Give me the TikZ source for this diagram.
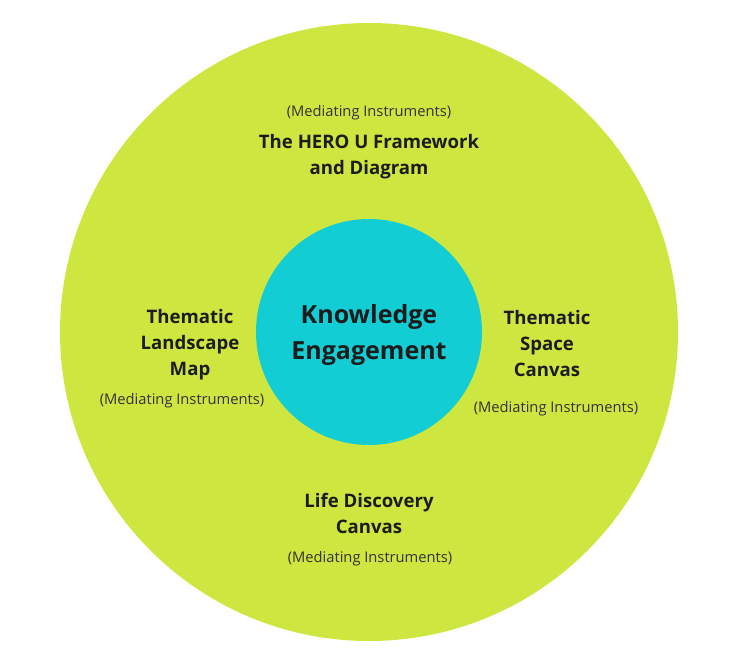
\documentclass[tikz,border=0pt]{standalone}
\usepackage{fontspec}
\setmainfont{Open Sans}
\usetikzlibrary{positioning}
\definecolor{limegreen}{HTML}{CEE640}
\definecolor{cyanball}{HTML}{13CDD4}
\definecolor{inkdark}{HTML}{1C1C1C}
\tikzset{
  title/.style={align=center, text=inkdark, inner sep=0pt,
    font=\fontsize{18.6}{26}\selectfont\bfseries},
  note/.style={text=inkdark!90, inner sep=0pt,
    font=\fontsize{14.7}{16}\selectfont},
}
\begin{document}
\begin{tikzpicture}[x=1pt, y=-1pt]
  \useasboundingbox (0,0) rectangle (738,664);
  % Draw the two circles
  \fill[limegreen] (369,332) circle (309);
  \fill[cyanball] (369,332) circle (113);
  % Centre label
  \node[align=center, text=inkdark, inner sep=0pt,
    font=\fontsize{25}{36}\selectfont\bfseries] (core) at (369,335)
    {Knowledge\\Engagement};
  % Top
  \node[note] (topnote) at (369,113) {(Mediating Instruments)};
  \node[title] (hero) at (369,157) {The HERO U Framework\\and Diagram};
  % Left
  \node[title] (landscape) at (190,345) {Thematic\\Landscape\\Map};
  \node[note] (leftnote) at (182,401) {(Mediating Instruments)};
  % Right
  \node[title] (space) at (547,344) {Thematic\\Space\\Canvas};
  \node[note] (rightnote) at (556,409) {(Mediating Instruments)};
  % Bottom
  \node[title] (life) at (369,513) {Life Discovery\\Canvas};
  \node[note] (bottomnote) at (370,559) {(Mediating Instruments)};
\end{tikzpicture}
\end{document}
